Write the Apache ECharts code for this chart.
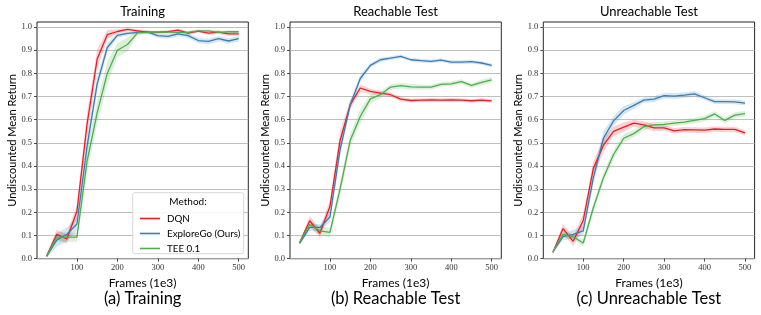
<!DOCTYPE html>
<html>
<head>
<meta charset="utf-8">
<script src="https://cdn.jsdelivr.net/npm/echarts@6/dist/echarts.min.js"></script>
<style>html,body{margin:0;padding:0;background:#fff}#c{width:761px;height:315px}</style>
</head>
<body>
<div id="c"></div>
<script>
// ---- data ----
const frames = [25,50,75,100,125,150,175,200,225,250,275,300,325,350,375,400,425,450,475,500];
const methods = ['DQN','ExploreGo (Ours)','TEE 0.1'];
const panelTitles = ['Training','Reachable Test','Unreachable Test'];
const captions = ['(a) Training','(b) Reachable Test','(c) Unreachable Test'];
const yTicks = [0.0,0.1,0.2,0.3,0.4,0.5,0.6,0.7,0.8,0.9,1.0];
const xTicks = [100,200,300,400,500];

const trainDQN     = [0.012,0.105,0.085,0.205,0.58,0.862,0.967,0.981,0.99,0.984,0.978,0.978,0.98,0.987,0.974,0.983,0.974,0.978,0.971,0.971];
const trainExplore = [0.01,0.08,0.105,0.15,0.485,0.755,0.912,0.964,0.973,0.977,0.978,0.963,0.96,0.971,0.963,0.942,0.938,0.95,0.94,0.95];
const trainTEE     = [0.01,0.093,0.093,0.093,0.42,0.63,0.80,0.90,0.925,0.975,0.977,0.978,0.978,0.977,0.977,0.984,0.984,0.977,0.98,0.98];

const reachDQN     = [0.069,0.164,0.11,0.225,0.51,0.664,0.737,0.722,0.715,0.708,0.689,0.683,0.685,0.686,0.685,0.686,0.685,0.682,0.685,0.681];
const reachExplore = [0.066,0.135,0.135,0.18,0.47,0.664,0.778,0.835,0.859,0.866,0.874,0.859,0.855,0.852,0.857,0.849,0.849,0.851,0.845,0.835];
const reachTEE     = [0.069,0.148,0.12,0.114,0.30,0.51,0.614,0.69,0.708,0.741,0.747,0.742,0.741,0.741,0.753,0.755,0.765,0.748,0.761,0.772];

const unreachDQN     = [0.027,0.13,0.075,0.165,0.39,0.49,0.55,0.568,0.585,0.578,0.565,0.565,0.552,0.557,0.556,0.555,0.56,0.558,0.558,0.543];
const unreachExplore = [0.03,0.095,0.105,0.12,0.35,0.52,0.595,0.64,0.662,0.685,0.689,0.704,0.702,0.706,0.712,0.695,0.678,0.678,0.677,0.672];
const unreachTEE     = [0.03,0.105,0.095,0.068,0.22,0.35,0.45,0.52,0.54,0.57,0.578,0.58,0.585,0.59,0.597,0.605,0.625,0.597,0.62,0.626];

// half-widths of shaded confidence bands
const trainDQNBand     = [0.005,0.02,0.02,0.03,0.05,0.04,0.02,0.01,0.006,0.006,0.006,0.005,0.006,0.006,0.008,0.006,0.008,0.008,0.008,0.008];
const trainExploreBand = [0.005,0.03,0.03,0.03,0.04,0.03,0.02,0.01,0.008,0.008,0.008,0.01,0.01,0.01,0.01,0.012,0.012,0.012,0.012,0.012];
const trainTEEBand     = [0.005,0.02,0.02,0.02,0.05,0.05,0.05,0.03,0.03,0.008,0.006,0.006,0.006,0.006,0.006,0.006,0.006,0.006,0.006,0.006];
const reachDQNBand     = [0.005,0.02,0.02,0.03,0.04,0.02,0.015,0.012,0.01,0.01,0.01,0.008,0.008,0.008,0.008,0.008,0.008,0.008,0.008,0.008];
const reachExploreBand = [0.005,0.015,0.015,0.02,0.03,0.02,0.015,0.01,0.01,0.008,0.008,0.008,0.008,0.008,0.008,0.008,0.008,0.008,0.008,0.008];
const reachTEEBand     = [0.005,0.015,0.02,0.02,0.03,0.03,0.03,0.02,0.015,0.012,0.012,0.012,0.01,0.01,0.01,0.01,0.01,0.01,0.012,0.012];
const unreachDQNBand     = [0.005,0.02,0.02,0.03,0.03,0.03,0.02,0.02,0.015,0.015,0.015,0.012,0.012,0.012,0.012,0.012,0.012,0.012,0.012,0.012];
const unreachExploreBand = [0.005,0.015,0.02,0.02,0.03,0.03,0.02,0.018,0.015,0.012,0.012,0.012,0.012,0.012,0.012,0.01,0.01,0.01,0.01,0.01];
const unreachTEEBand     = [0.005,0.012,0.012,0.015,0.02,0.02,0.02,0.018,0.015,0.015,0.012,0.012,0.012,0.012,0.012,0.012,0.012,0.012,0.012,0.012];

// ---- layout / style ----
const colors = ['#ec1c24','#377eb8','#4daf4a'];
const bandColors = ['rgba(236,28,36,0.2)','rgba(55,126,184,0.2)','rgba(77,175,74,0.2)'];
const panels = [
  {vals:[trainDQN,trainExplore,trainTEE], bands:[trainDQNBand,trainExploreBand,trainTEEBand], left:37},
  {vals:[reachDQN,reachExplore,reachTEE], bands:[reachDQNBand,reachExploreBand,reachTEEBand], left:290},
  {vals:[unreachDQN,unreachExplore,unreachTEE], bands:[unreachDQNBand,unreachExploreBand,unreachTEEBand], left:543.3}
];
const gTop = 22, gH = 236.7, gW = 211.3;
const SANS = 'Lato, "Open Sans", sans-serif';
const SERIF = '"Liberation Serif", "DejaVu Serif", serif';

const grids = [], xAxes = [], yAxes = [], series = [], graphics = [];
panels.forEach((p, pi) => {
  grids.push({left:p.left, top:gTop, width:gW, height:gH, show:true, borderColor:'#262626', borderWidth:1, backgroundColor:'transparent'});
  xAxes.push({
    type:'value', gridIndex:pi, min:1.25, max:523.75,
    name:'Frames (1e3)', nameLocation:'middle', nameGap:16,
    nameTextStyle:{fontFamily:SANS, fontSize:12, color:'#000'},
    axisLine:{show:false},
    axisTick:{show:true, length:3, lineStyle:{color:'#262626', width:0.8}, customValues:xTicks},
    axisLabel:{fontFamily:SERIF, fontSize:8.5, color:'#333', margin:5, customValues:xTicks, formatter:v=>String(v)},
    splitLine:{show:false}
  });
  yAxes.push({
    type:'value', gridIndex:pi, min:0, max:1.022,
    name:'Undiscounted Mean Return', nameLocation:'middle', nameGap:19, nameRotate:90,
    nameTextStyle:{fontFamily:SANS, fontSize:11, color:'#000'},
    axisLine:{show:false},
    axisTick:{show:true, length:3, lineStyle:{color:'#262626', width:0.8}, customValues:yTicks},
    axisLabel:{fontFamily:SERIF, fontSize:8.5, color:'#333', margin:5, customValues:yTicks, formatter:v=>v.toFixed(1)},
    splitLine:{show:true, lineStyle:{color:'#b0b0b0', width:0.8}, customValues:yTicks}
  });
  p.vals.forEach((vals, mi) => {
    const b = p.bands[mi];
    const rows = frames.map((f,i)=>[f, vals[i]-b[i], vals[i]+b[i]]);
    series.push({
      type:'custom', xAxisIndex:pi, yAxisIndex:pi, silent:true, z:1, clip:true,
      data:rows,
      encode:{x:0, y:[1,2]},
      renderItem:function (params, api) {
        if (params.dataIndex !== 0) return null;
        const upper = rows.map(r => api.coord([r[0], r[2]]));
        const lower = rows.map(r => api.coord([r[0], r[1]])).reverse();
        return {type:'polygon', shape:{points:upper.concat(lower)}, style:{fill:bandColors[mi], stroke:null}};
      }
    });
  });
  p.vals.forEach((vals, mi) => {
    series.push({
      name:methods[mi], type:'line', xAxisIndex:pi, yAxisIndex:pi, symbol:'none', z:3,
      color:colors[mi], lineStyle:{color:colors[mi], width:1.3},
      data:frames.map((f,i)=>[f, vals[i]])
    });
  });
  const cx = p.left + gW/2;
  graphics.push({type:'text', x:cx, y:12, style:{text:panelTitles[pi], fontFamily:SANS, fontSize:13, fill:'#000', align:'center', verticalAlign:'middle'}});
  graphics.push({type:'text', x:cx, y:299, style:{text:captions[pi], fontFamily:SANS, fontSize:16.5, fill:'#000', align:'center', verticalAlign:'middle'}});
});

// legend box
graphics.push({type:'rect', shape:{x:132.7, y:192.7, width:111, height:61, r:2}, style:{fill:'rgba(255,255,255,0.85)', stroke:'#cccccc', lineWidth:0.8}, z:10});
graphics.push({type:'text', x:188, y:201.5, style:{text:'Method:', fontFamily:SANS, fontSize:10, fill:'#000', align:'center', verticalAlign:'middle'}, z:11});

const option = {
  animation:false,
  backgroundColor:'#fff',
  grid:grids, xAxis:xAxes, yAxis:yAxes, series:series,
  legend:{
    data:methods, orient:'vertical', left:135, top:207, itemWidth:20, itemHeight:1.6, itemGap:2,
    icon:'rect', selectedMode:false, z:12,
    textStyle:{fontFamily:SANS, fontSize:9.8, color:'#000', lineHeight:13, padding:[0,0,0,2]}
  },
  graphic:graphics
};
const chart = echarts.init(document.getElementById('c'), null, {renderer:'canvas'});
chart.setOption(option);
</script>
</body>
</html>
